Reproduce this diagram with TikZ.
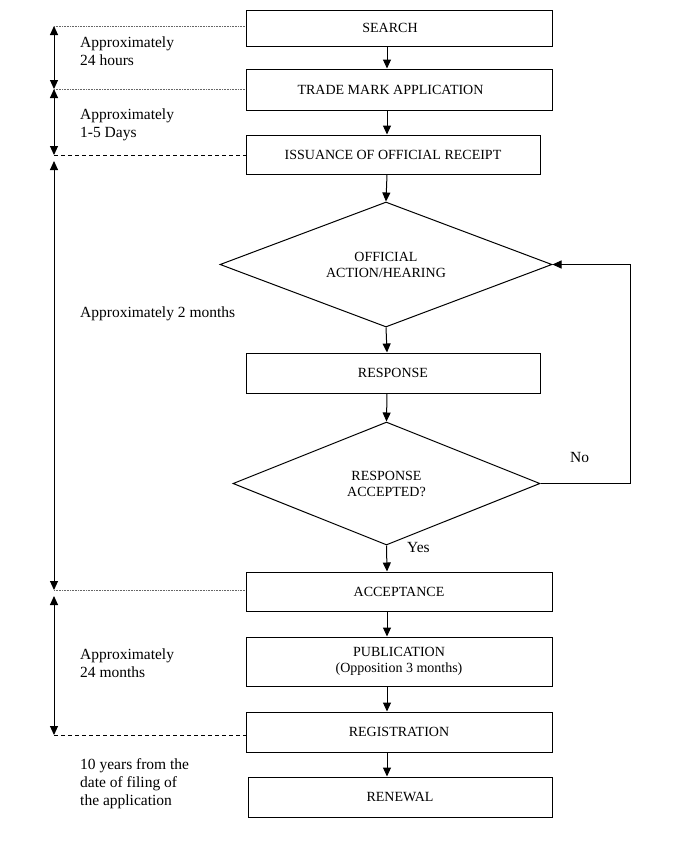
\documentclass[tikz,border=0pt]{standalone}
\usepackage{fontspec}
\setmainfont{Liberation Serif}
\usetikzlibrary{arrows.meta,shapes.geometric}
\begin{document}
\begin{tikzpicture}[x=1pt,y=-1pt,
  box/.style={draw, line width=1pt, inner sep=0pt, align=center,
    font=\fontsize{14}{16}\selectfont},
  dia/.style={draw, diamond, line width=1pt, inner sep=0pt, align=center,
    font=\fontsize{14}{16}\selectfont},
  lab/.style={inner sep=0pt, anchor=base west, align=left,
    font=\fontsize{15.5}{18}\selectfont},
  arr/.style={line width=1pt, -{Triangle[length=9pt,width=8pt]}},
  dblarr/.style={line width=1pt, {Triangle[length=9pt,width=8pt]}-{Triangle[length=9pt,width=8pt]}},
  dotline/.style={line width=0.7pt, black!60, dash pattern=on 0.8pt off 0.8pt},
  dashline/.style={line width=0.8pt, dash pattern=on 4pt off 3pt}
]
\useasboundingbox (0,0) rectangle (680,847);
\fill[white] (0,0) rectangle (680,847);

% flow nodes
\node[box, minimum width=306pt, minimum height=36pt] (search) at (399,28) {SEARCH\hspace*{18pt}};
\node[box, minimum width=306pt, minimum height=41pt] (tma) at (399,89.5) {TRADE MARK APPLICATION\hspace*{17pt}};
\node[box, minimum width=294pt, minimum height=39pt] (iss) at (393,154.5) {ISSUANCE OF OFFICIAL RECEIPT};
\node[dia, minimum width=332pt, minimum height=125pt, aspect=2.66] (d1) at (386,264.5) {OFFICIAL\\ACTION/HEARING};
\node[box, minimum width=294pt, minimum height=40pt] (resp) at (393,373) {RESPONSE};
\node[dia, minimum width=307pt, minimum height=123pt, aspect=2.5] (d2) at (386.5,483.5) {RESPONSE\\ACCEPTED?};
\node[box, minimum width=306pt, minimum height=39pt] (acc) at (399,591.5) {ACCEPTANCE};
\node[box, minimum width=306pt, minimum height=49pt] (pub) at (399,661.5) {PUBLICATION\\(Opposition 3 months)};
\node[box, minimum width=306pt, minimum height=40pt] (reg) at (399,732) {REGISTRATION};
\node[box, minimum width=304pt, minimum height=40pt] (ren) at (400,797) {RENEWAL};

% column for main arrows
\coordinate (col) at (387,0);
\coordinate (loopc) at (630,0);

\draw[arr] (search.south -| col) -- (tma.north -| col);
\draw[arr] (tma.south -| col) -- (iss.north -| col);
\draw[arr] (iss.south -| col) -- (d1.north);
\draw[arr] (d1.south) -- (resp.north -| col);
\draw[arr] (resp.south -| col) -- (d2.north);
\draw[arr] (d2.south) -- (acc.north -| col);
\draw[arr] (acc.south -| col) -- (pub.north -| col);
\draw[arr] (pub.south -| col) -- (reg.north -| col);
\draw[arr] (reg.south -| col) -- (ren.north -| col);

% loop back
\draw[arr] (d2.east) -- (d2.east -| loopc) |- (d1.east);
\node[inner sep=0pt, anchor=base west, font=\fontsize{15.5}{18}\selectfont] (no) at (570,462) {No};
\node[inner sep=0pt, anchor=base west, font=\fontsize{15.5}{18}\selectfont] (yes) at (407,552) {Yes};

% time scale on the left
\coordinate (a1) at (54,26);
\coordinate (a2) at (54,89);
\coordinate (a3) at (54,155);
\coordinate (a3b) at (54,161);
\coordinate (a4) at (54,590);
\coordinate (a4b) at (54,596);
\coordinate (a5) at (54,735);

\draw[dblarr] (a1) -- (a2);
\draw[dblarr] (a2) -- (a3);
\draw[dblarr] (a3b) -- (a4);
\draw[dblarr] (a4b) -- (a5);

\draw[dotline] (a1) -- (search.west |- a1);
\draw[dotline] (a2) -- (tma.west |- a2);
\draw[dashline] (a3) -- (iss.west |- a3);
\draw[dotline] (a4) -- (acc.west |- a4);
\draw[dashline] (a5) -- (reg.west |- a5);

% labels (base anchor = baseline of last line)
\node[lab] (l1) at (80,65) {Approximately\\24 hours};
\node[lab] (l2) at (80,137) {Approximately\\1-5 Days};
\node[lab] (l3) at (80,317) {Approximately 2 months};
\node[lab] (l4) at (80,677) {Approximately\\24 months};
\node[lab] (l5) at (80,805) {10 years from the\\date of filing of\\the application};
\end{tikzpicture}
\end{document}
